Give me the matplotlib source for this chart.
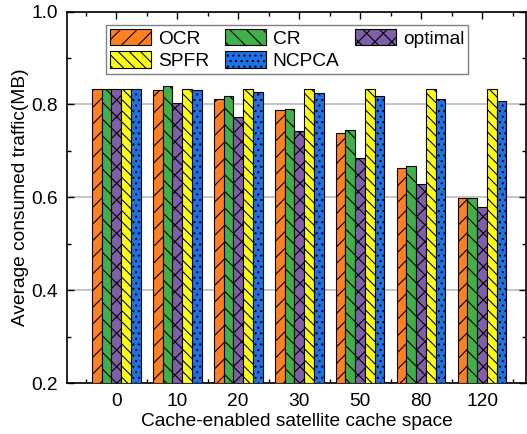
import matplotlib
matplotlib.use("Agg")
import matplotlib.pyplot as plt
import numpy as np

# Daten
categories = ['0', '10', '20', '30', '50', '80', '120']
ocr = [0.834, 0.830, 0.811, 0.787, 0.739, 0.664, 0.599]
cr = [0.834, 0.839, 0.819, 0.791, 0.745, 0.667, 0.598]
optimal = [0.834, 0.804, 0.773, 0.743, 0.685, 0.629, 0.578]
spfr = [0.834, 0.834, 0.834, 0.834, 0.834, 0.834, 0.834]
ncpca = [0.834, 0.830, 0.826, 0.824, 0.819, 0.811, 0.807]

series = [
    ('OCR', ocr, '#FF8020', '//'),
    ('CR', cr, '#40B048', '\\\\'),
    ('optimal', optimal, '#7F5FA8', 'xx'),
    ('SPFR', spfr, '#FFFF10', '\\\\\\'),
    ('NCPCA', ncpca, '#2070E8', '...'),
]

plt.rcParams['font.family'] = ['Liberation Sans', 'DejaVu Sans']
plt.rcParams['font.size'] = 13.8
plt.rcParams['hatch.linewidth'] = 0.8

fig = plt.figure(figsize=(5.27, 4.34), dpi=100)
ax = fig.add_axes([0.128, 0.1175, 0.870, 0.856])

x = np.arange(len(categories))
w = 0.16
handles = {}
for i, (name, vals, col, hat) in enumerate(series):
    pos = x + (i - 2) * w
    b = ax.bar(pos, np.array(vals) - 0.2, width=w, bottom=0.2, color=col,
               edgecolor='black', linewidth=0.8, hatch=hat, zorder=3, label=name)
    handles[name] = b

ax.set_xlim(-0.8, 6.72)
ax.set_ylim(0.2, 1.0)
ax.set_xticks(x)
ax.set_xticklabels(categories)
ax.set_xticks(np.append(x - 0.5, x[-1] + 0.5), minor=True)
ax.set_yticks([0.2, 0.4, 0.6, 0.8, 1.0])
ax.set_yticks([0.3, 0.5, 0.7, 0.9], minor=True)
ax.yaxis.grid(True, color='#c0c0c0', linewidth=1.3, zorder=0)
ax.set_axisbelow(True)
ax.tick_params(which='both', direction='in', top=True, right=True, width=1)
ax.tick_params(which='major', length=5, pad=7)
ax.tick_params(which='minor', length=3)
for s in ax.spines.values():
    s.set_linewidth(1.2)

ax.set_xlabel('Cache-enabled satellite cache space', labelpad=2)
ax.set_ylabel('Average consumed traffic(MB)', labelpad=1.5)

order = ['OCR', 'SPFR', 'CR', 'NCPCA', 'optimal']
leg = ax.legend([handles[n] for n in order], order, ncol=3,
                loc='upper left', bbox_to_anchor=(0.084, 0.964),
                frameon=True, fancybox=False, edgecolor='#606060',
                handlelength=2.15, handleheight=0.95, handletextpad=0.37,
                columnspacing=0.8, labelspacing=0.2, borderpad=0.2,
                borderaxespad=0)
leg.get_frame().set_linewidth(1.0)

fig.savefig('out.png', dpi=100)
